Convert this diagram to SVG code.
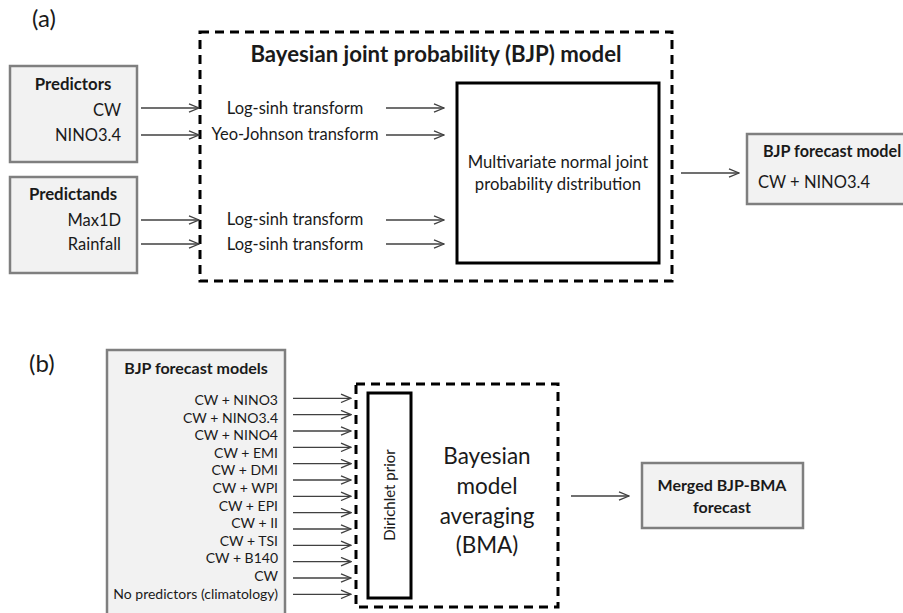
<svg xmlns="http://www.w3.org/2000/svg" width="903" height="613" viewBox="0 0 903 613">
<defs>
<marker id="ah" viewBox="0 0 12 10" refX="11" refY="5" markerWidth="12" markerHeight="10" markerUnits="userSpaceOnUse" orient="auto">
<path d="M1,0.8 L11,5 L1,9.2" fill="none" stroke="#404040" stroke-width="1.3"/>
</marker>
<style>
text{font-family:Lato,"Liberation Sans",sans-serif;fill:#1a1a1a}
.gbox{fill:#f2f2f2;stroke:#7f7f7f;stroke-width:2.5}
.dash{fill:none;stroke:#000;stroke-width:3;stroke-dasharray:9,6}
.solid{fill:#fff;stroke:#000;stroke-width:3}
.b{font-weight:bold}
.lbl{font-size:16.5px}
.r{text-anchor:end}
.m{text-anchor:middle}
.sm{font-size:14px}
#connectors line{stroke:#404040;stroke-width:1.3;marker-end:url(#ah)}
</style>
</defs>
<text x="32" y="27" style="font-size:24px">(a)</text>
<text x="29" y="372" style="font-size:24px">(b)</text>

<g id="predictors">
<rect class="gbox" x="10" y="66" width="127" height="96"/>
<text class="b m" x="73" y="90" style="font-size:16.8px">Predictors</text>
<text class="lbl r" x="121" y="116">CW</text>
<text class="lbl r" x="121" y="141">NINO3.4</text>
</g>
<g id="predictands">
<rect class="gbox" x="10" y="177" width="127" height="96"/>
<text class="b m" x="73" y="200" style="font-size:16.8px">Predictands</text>
<text class="lbl r" x="121" y="226">Max1D</text>
<text class="lbl r" x="121" y="250">Rainfall</text>
</g>
<g id="bjp-model">
<rect class="dash" x="200" y="32" width="472" height="249"/>
<text class="b m" x="436" y="62" style="font-size:22.2px">Bayesian joint probability (BJP) model</text>
<text class="lbl m" x="295" y="114">Log-sinh transform</text>
<text class="lbl m" x="295" y="140">Yeo-Johnson transform</text>
<text class="lbl m" x="295" y="225">Log-sinh transform</text>
<text class="lbl m" x="295" y="250">Log-sinh transform</text>
</g>
<g id="mvn">
<rect class="solid" x="457" y="83" width="202" height="180"/>
<text class="lbl m" x="558" y="168" style="font-size:16.7px">Multivariate normal joint</text>
<text class="lbl m" x="558" y="190" style="font-size:16.7px">probability distribution</text>
</g>
<g id="bjp-forecast-model">
<rect class="gbox" x="747" y="134" width="170" height="70"/>
<text class="b" x="763" y="157" style="font-size:16.2px">BJP forecast model</text>
<text class="lbl" x="758" y="188">CW + NINO3.4</text>
</g>

<g id="bjp-forecast-models">
<rect class="gbox" x="107" y="350" width="178" height="275"/>
<text class="b m" x="196" y="374" style="font-size:16px">BJP forecast models</text>
<text class="sm r" x="278" y="405">CW + NINO3</text>
<text class="sm r" x="278" y="422.6">CW + NINO3.4</text>
<text class="sm r" x="278" y="440.2">CW + NINO4</text>
<text class="sm r" x="278" y="457.8">CW + EMI</text>
<text class="sm r" x="278" y="475.4">CW + DMI</text>
<text class="sm r" x="278" y="493">CW + WPI</text>
<text class="sm r" x="278" y="510.6">CW + EPI</text>
<text class="sm r" x="278" y="528.2">CW + II</text>
<text class="sm r" x="278" y="545.8">CW + TSI</text>
<text class="sm r" x="278" y="563.4">CW + B140</text>
<text class="sm r" x="278" y="581">CW</text>
<text class="sm r" x="278" y="598.6">No predictors (climatology)</text>
</g>
<g id="bma">
<rect class="dash" x="356" y="384" width="202" height="223"/>
<text class="m" x="487" y="464" style="font-size:22.5px">Bayesian</text>
<text class="m" x="487" y="494" style="font-size:22.5px">model</text>
<text class="m" x="487" y="524" style="font-size:22.5px">averaging</text>
<text class="m" x="487" y="553" style="font-size:22.5px">(BMA)</text>
</g>
<g id="dirichlet">
<rect class="solid" x="368" y="393" width="43" height="205"/>
<text class="m" transform="translate(395,495) rotate(-90)" style="font-size:15px">Dirichlet prior</text>
</g>
<g id="merged">
<rect class="gbox" x="642" y="463" width="161" height="65"/>
<text class="b m" x="722" y="491" style="font-size:16px">Merged BJP-BMA</text>
<text class="b m" x="722" y="513" style="font-size:16px">forecast</text>
</g>

<g id="connectors">
<line x1="141" y1="108" x2="199" y2="108"/>
<line x1="141" y1="135" x2="199" y2="135"/>
<line x1="141" y1="220" x2="199" y2="220"/>
<line x1="141" y1="244" x2="199" y2="244"/>
<line x1="386" y1="108" x2="444" y2="108"/>
<line x1="386" y1="135" x2="444" y2="135"/>
<line x1="386" y1="220" x2="444" y2="220"/>
<line x1="386" y1="244" x2="444" y2="244"/>
<line x1="681" y1="173" x2="739" y2="173"/>
<line x1="293" y1="398.3" x2="351" y2="398.3"/>
<line x1="293" y1="414.6" x2="351" y2="414.6"/>
<line x1="293" y1="431" x2="351" y2="431"/>
<line x1="293" y1="447.3" x2="351" y2="447.3"/>
<line x1="293" y1="463.6" x2="351" y2="463.6"/>
<line x1="293" y1="480" x2="351" y2="480"/>
<line x1="293" y1="496.3" x2="351" y2="496.3"/>
<line x1="293" y1="512.6" x2="351" y2="512.6"/>
<line x1="293" y1="529" x2="351" y2="529"/>
<line x1="293" y1="545.3" x2="351" y2="545.3"/>
<line x1="293" y1="561.6" x2="351" y2="561.6"/>
<line x1="293" y1="578" x2="351" y2="578"/>
<line x1="293" y1="594.3" x2="351" y2="594.3"/>
<line x1="571" y1="496" x2="629" y2="496"/>
</g>
</svg>
